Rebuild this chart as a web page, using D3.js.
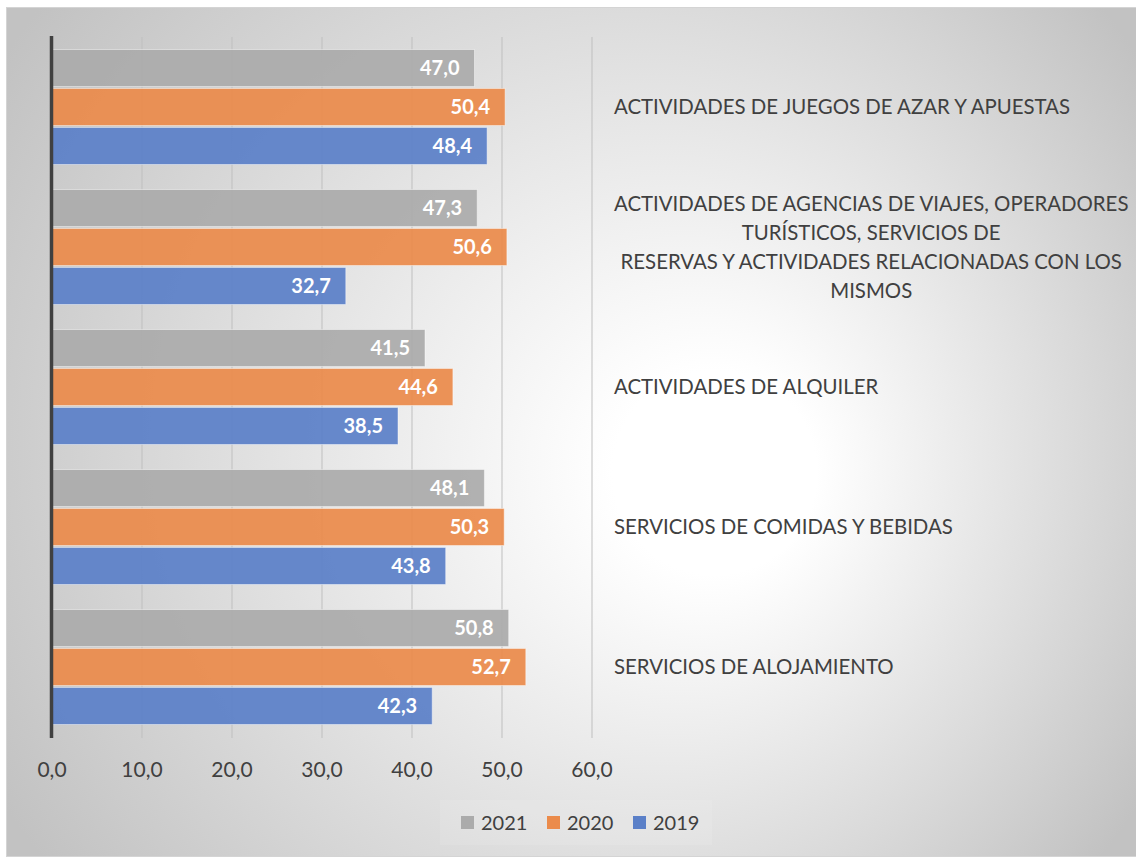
<!DOCTYPE html>
<html>
<head>
<meta charset="utf-8">
<script src="https://cdn.jsdelivr.net/npm/d3@7"></script>
<style>
  html, body { margin: 0; padding: 0; background: #ffffff; }
  svg { display: block; }
  text { font-family: Lato, "Open Sans", sans-serif; }
</style>
</head>
<body>
<svg id="chart" width="1136" height="858"></svg>
<script>
// Categories, top to bottom
const categories = [
  ["ACTIVIDADES DE JUEGOS DE AZAR Y APUESTAS"],
  ["ACTIVIDADES DE AGENCIAS DE VIAJES, OPERADORES", "TURÍSTICOS, SERVICIOS DE", "RESERVAS Y ACTIVIDADES RELACIONADAS CON LOS", "MISMOS"],
  ["ACTIVIDADES DE ALQUILER"],
  ["SERVICIOS DE COMIDAS Y BEBIDAS"],
  ["SERVICIOS DE ALOJAMIENTO"]
];
const seriesNames = ["2021", "2020", "2019"];
const values2021 = [47.0, 47.3, 41.5, 48.1, 50.8];
const values2020 = [50.4, 50.6, 44.6, 50.3, 52.7];
const values2019 = [48.4, 32.7, 38.5, 43.8, 42.3];
const seriesColors = ["#ababab", "#eb8b4b", "#5b80c8"];
const tickValues = [0, 10, 20, 30, 40, 50, 60];

const seriesValues = [values2021, values2020, values2019];
const fmt = v => v.toFixed(1).replace(".", ",");

const svg = d3.select("#chart");
const defs = svg.append("defs");

// Chart area background: soft radial shading
const grad = defs.append("radialGradient")
  .attr("id", "bgGrad")
  .attr("gradientUnits", "userSpaceOnUse")
  .attr("cx", 571).attr("cy", 431).attr("r", 680)
  .attr("fx", 740).attr("fy", 480);
grad.append("stop").attr("offset", 0).attr("stop-color", "#ffffff");
grad.append("stop").attr("offset", 0.15).attr("stop-color", "#ffffff");
grad.append("stop").attr("offset", 1).attr("stop-color", "#c2c2c2");

svg.append("rect")
  .attr("x", 6.5).attr("y", 7.5)
  .attr("width", 1135).attr("height", 849)
  .attr("fill", "url(#bgGrad)")
  .attr("stroke", "#d4d4d4").attr("stroke-width", 1);

// Scales
const plotTop = 37, plotBottom = 737;
const x = d3.scaleLinear().domain([0, 60]).range([51.5, 591.5]);
const yCat = d3.scaleBand()
  .domain(d3.range(categories.length))
  .range([plotTop, plotBottom])
  .paddingInner(0.1786)
  .paddingOuter(0.0893);
const ySeries = d3.scaleBand()
  .domain(d3.range(seriesNames.length))
  .range([0, yCat.bandwidth()])
  .paddingInner(0.05);

// Vertical gridlines and tick marks
const grid = svg.append("g")
  .attr("transform", `translate(0,${plotBottom + 1})`)
  .call(d3.axisBottom(x).tickValues(tickValues).tickSize(-(plotBottom + 1 - plotTop)).tickFormat(""));
grid.select(".domain").remove();
grid.selectAll(".tick line").attr("stroke", "#bfbfbf").attr("stroke-width", 1);

// Bars
const groups = svg.append("g").selectAll("g")
  .data(categories.map((c, i) => i))
  .join("g")
  .attr("transform", i => `translate(0,${yCat(i)})`);

groups.selectAll("rect")
  .data(i => seriesValues.map((vals, s) => ({ s, v: vals[i] })))
  .join("rect")
  .attr("x", x(0))
  .attr("y", d => ySeries(d.s))
  .attr("width", d => x(d.v) - x(0))
  .attr("height", ySeries.bandwidth())
  .attr("fill", d => seriesColors[d.s])
  .attr("fill-opacity", 0.93)
  .attr("stroke", "rgba(255,255,255,0.45)")
  .attr("stroke-width", 1);

// Value labels inside the bar ends
groups.selectAll("text.val")
  .data(i => seriesValues.map((vals, s) => ({ s, v: vals[i] })))
  .join("text")
  .attr("class", "val")
  .attr("x", d => x(d.v) - 15)
  .attr("y", d => ySeries(d.s) + ySeries.bandwidth() / 2)
  .attr("dy", "0.36em")
  .attr("text-anchor", "end")
  .attr("fill", "#ffffff")
  .attr("font-weight", "bold")
  .attr("font-size", "20px")
  .text(d => fmt(d.v));

// Value axis line at zero
svg.append("line")
  .attr("x1", x(0)).attr("x2", x(0))
  .attr("y1", plotTop - 1).attr("y2", plotBottom + 1)
  .attr("stroke", "#404040").attr("stroke-width", 3.5);

// Tick labels
const axis = svg.append("g")
  .attr("transform", `translate(0,${plotBottom + 1})`)
  .call(d3.axisBottom(x).tickValues(tickValues).tickSize(0).tickPadding(0).tickFormat(fmt));
axis.select(".domain").remove();
axis.selectAll(".tick text")
  .attr("y", 39)
  .attr("dy", "0")
  .attr("fill", "#404040")
  .attr("font-size", "21px")
  .attr("font-family", "Lato, 'Open Sans', sans-serif");

// Category labels on the right, lines centred within each block
const labelX = 614, lineH = 29;
categories.forEach((lines, i) => {
  const cy = yCat(i) + yCat.bandwidth() / 2;
  const g = svg.append("g");
  const texts = lines.map((ln, k) => g.append("text")
    .attr("y", cy + (k - (lines.length - 1) / 2) * lineH)
    .attr("dy", "0.36em")
    .attr("fill", "#404040")
    .attr("font-size", "20.4px")
    .text(ln));
  const widths = texts.map(t => t.node().getComputedTextLength());
  const blockW = d3.max(widths);
  texts.forEach((t, k) => t.attr("x", labelX + (blockW - widths[k]) / 2));
});

// Legend
svg.append("rect")
  .attr("x", 440).attr("y", 800).attr("width", 272).attr("height", 45)
  .attr("fill", "#ffffff").attr("fill-opacity", 0.1);
const legendX = [461, 547, 633];
const legend = svg.append("g").selectAll("g")
  .data(seriesNames)
  .join("g")
  .attr("transform", (d, i) => `translate(${legendX[i]},816)`);
legend.append("rect")
  .attr("width", 13).attr("height", 13)
  .attr("fill", (d, i) => seriesColors[i]);
legend.append("text")
  .attr("x", 20).attr("y", 6.5)
  .attr("dy", "0.36em")
  .attr("fill", "#404040")
  .attr("font-size", "20px")
  .text(d => d);
</script>
</body>
</html>
